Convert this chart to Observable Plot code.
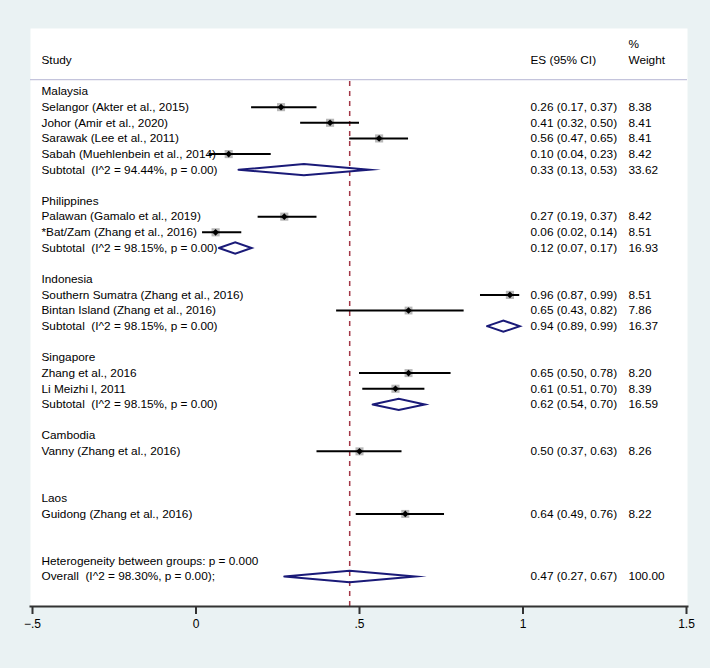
<!DOCTYPE html>
<html>
<head>
<meta charset="utf-8">
<script src="https://cdn.jsdelivr.net/npm/d3@7"></script>
<script src="https://cdn.jsdelivr.net/npm/@observablehq/plot@0.6"></script>
<style>
  html, body { margin: 0; padding: 0; background: #eaf2f3; }
</style>
</head>
<body>
<div id="chart"></div>
<script>
// ---- data ----
const groups = ["Malaysia", "Philippines", "Indonesia", "Singapore", "Cambodia", "Laos"];

const studyNames = [
  "Selangor (Akter et al., 2015)",
  "Johor (Amir et al., 2020)",
  "Sarawak (Lee et al., 2011)",
  "Sabah (Muehlenbein et al., 2014)",
  "Palawan (Gamalo et al., 2019)",
  "*Bat/Zam (Zhang et al., 2016)",
  "Southern Sumatra (Zhang et al., 2016)",
  "Bintan Island (Zhang et al., 2016)",
  "Zhang et al., 2016",
  "Li Meizhi l, 2011",
  "Vanny (Zhang et al., 2016)",
  "Guidong (Zhang et al., 2016)"
];
const studyGroup  = [0, 0, 0, 0, 1, 1, 2, 2, 3, 3, 4, 5];
const studyES     = [0.26, 0.41, 0.56, 0.10, 0.27, 0.06, 0.96, 0.65, 0.65, 0.61, 0.50, 0.64];
const studyLo     = [0.17, 0.32, 0.47, 0.04, 0.19, 0.02, 0.87, 0.43, 0.50, 0.51, 0.37, 0.49];
const studyHi     = [0.37, 0.50, 0.65, 0.23, 0.37, 0.14, 0.99, 0.82, 0.78, 0.70, 0.63, 0.76];
const studyWeight = [8.38, 8.41, 8.41, 8.42, 8.42, 8.51, 8.51, 7.86, 8.20, 8.39, 8.26, 8.22];

const subtotalI2     = [94.44, 98.15, 98.15, 98.15, null, null];
const subtotalP      = [0.00, 0.00, 0.00, 0.00, null, null];
const subtotalES     = [0.33, 0.12, 0.94, 0.62, null, null];
const subtotalLo     = [0.13, 0.07, 0.89, 0.54, null, null];
const subtotalHi     = [0.53, 0.17, 0.99, 0.70, null, null];
const subtotalWeight = [33.62, 16.93, 16.37, 16.59, null, null];

const overallES = 0.47, overallLo = 0.27, overallHi = 0.67, overallWeight = 100.00;
const overallI2 = 98.30, overallP = 0.00;
const heterogeneityP = "0.000";

const headerStudy = "Study";
const headerES = "ES (95% CI)";
const headerWeight = ["%", "Weight"];

const tickValues = [-0.5, 0, 0.5, 1, 1.5];
const tickLabels = ["\u2212.5", "0", ".5", "1", "1.5"];

// ---- build rows ----
const f2 = v => v.toFixed(2);
const labels = [];    // {row, text}
const esTexts = [];   // {row, text}
const wTexts = [];    // {row, text}
const studies = [];   // {row, es, lo, hi, w}
const diamonds = [];  // {row, es, lo, hi, id}
let row = 0;
groups.forEach((g, gi) => {
  labels.push({row, text: g}); row++;
  studyNames.forEach((name, si) => {
    if (studyGroup[si] !== gi) return;
    labels.push({row, text: name});
    esTexts.push({row, text: `${f2(studyES[si])} (${f2(studyLo[si])}, ${f2(studyHi[si])})`});
    wTexts.push({row, text: f2(studyWeight[si])});
    studies.push({row, es: studyES[si], lo: studyLo[si], hi: studyHi[si], w: studyWeight[si]});
    row++;
  });
  if (subtotalES[gi] != null) {
    labels.push({row, text: `Subtotal  (I^2 = ${f2(subtotalI2[gi])}%, p = ${f2(subtotalP[gi])})`});
    esTexts.push({row, text: `${f2(subtotalES[gi])} (${f2(subtotalLo[gi])}, ${f2(subtotalHi[gi])})`});
    wTexts.push({row, text: f2(subtotalWeight[gi])});
    diamonds.push({row, es: subtotalES[gi], lo: subtotalLo[gi], hi: subtotalHi[gi], id: g});
  }
  row++; // subtotal row
  row++; // blank row
});
labels.push({row, text: `Heterogeneity between groups: p = ${heterogeneityP}`}); row++;
labels.push({row, text: `Overall  (I^2 = ${f2(overallI2)}%, p = ${f2(overallP)});`});
esTexts.push({row, text: `${f2(overallES)} (${f2(overallLo)}, ${f2(overallHi)})`});
wTexts.push({row, text: f2(overallWeight)});
diamonds.push({row, es: overallES, lo: overallLo, hi: overallHi, id: "Overall"});
const lastRow = row;

const dh = 0.36; // diamond half-height in row units
const diamondPts = diamonds.flatMap(d => [
  {x: d.lo, y: d.row, id: d.id},
  {x: d.es, y: d.row - dh, id: d.id},
  {x: d.hi, y: d.row, id: d.id},
  {x: d.es, y: d.row + dh, id: d.id},
  {x: d.lo, y: d.row, id: d.id}
]);

const headers = [
  {row: -2, text: headerStudy, col: "study"},
  {row: -2, text: headerES, col: "es"},
  {row: -3, text: headerWeight[0], col: "w"},
  {row: -2, text: headerWeight[1], col: "w"}
];
const dividerRow = -0.76;

const FONT = 11.8;
const navy = "#1a1a78";
const maroon = "#a33646";

const chart = Plot.plot({
  width: 710,
  height: 668,
  marginLeft: 30,
  marginRight: 23,
  marginTop: 28,
  marginBottom: 62,
  style: {background: "#eaf2f3", fontFamily: "'Liberation Sans', Arial, Helvetica, sans-serif", fontSize: FONT + "px", color: "black"},
  x: {domain: [-0.5, 1.5], range: [32, 686], axis: null},
  y: {domain: [0, lastRow], range: [91, 576], axis: null},
  r: {type: "sqrt", domain: [0, 8.5], range: [0, 4.6]},
  marks: [
    Plot.frame({fill: "white", stroke: null}),
    Plot.ruleY([dividerRow], {stroke: "#c4c4dc", strokeWidth: 1.3}),
    Plot.ruleX([overallES], {stroke: maroon, strokeWidth: 1.5, strokeDasharray: "5,5", insetTop: 53}),
    Plot.dot(studies, {x: "es", y: "row", r: "w", symbol: "square", fill: "#b8b8b8", stroke: null}),
    Plot.ruleY(studies, {x1: "lo", x2: "hi", y: "row", stroke: "black", strokeWidth: 2}),
    Plot.dot(studies, {x: "es", y: "row", r: 3, symbol: "diamond2", fill: "black", stroke: null}),
    Plot.line(diamondPts, {x: "x", y: "y", z: "id", stroke: navy, strokeWidth: 2, strokeLinejoin: "miter", strokeMiterlimit: 20}),
    Plot.text(labels, {y: "row", text: "text", frameAnchor: "left", dx: 11, textAnchor: "start", fontSize: FONT, fill: "black"}),
    Plot.text(esTexts, {y: "row", text: "text", frameAnchor: "right", dx: -157, textAnchor: "start", fontSize: FONT, fill: "black"}),
    Plot.text(wTexts, {y: "row", text: "text", frameAnchor: "right", dx: -59, textAnchor: "start", fontSize: FONT, fill: "black"}),
    Plot.text(headers.filter(d => d.col === "study"), {y: "row", text: "text", frameAnchor: "left", dx: 11, textAnchor: "start", fontSize: FONT, fill: "black"}),
    Plot.text(headers.filter(d => d.col === "es"), {y: "row", text: "text", frameAnchor: "right", dx: -157, textAnchor: "start", fontSize: FONT, fill: "black"}),
    Plot.text(headers.filter(d => d.col === "w"), {y: "row", text: "text", frameAnchor: "right", dx: -59, textAnchor: "start", fontSize: FONT, fill: "black"}),
    Plot.frame({anchor: "bottom", stroke: "#333", strokeWidth: 2}),
    Plot.axisX({ticks: tickValues, tickFormat: d => tickLabels[tickValues.indexOf(d)], tickSize: 8, tickPadding: 5, stroke: "#333", strokeWidth: 2, fontSize: 12, fill: "black", label: null})
  ]
});
document.getElementById("chart").appendChild(chart);
</script>
</body>
</html>
